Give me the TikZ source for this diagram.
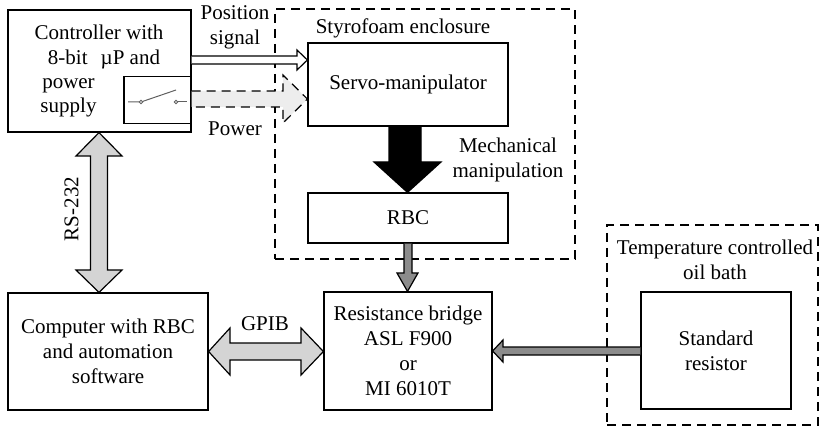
\documentclass[tikz,border=0pt]{standalone}
\usepackage{fontspec}
\setmainfont{Liberation Serif}
\usetikzlibrary{calc}
\definecolor{lightfill}{HTML}{D4D4D4}
\definecolor{powerfill}{HTML}{EDEDED}
\definecolor{midfill}{HTML}{8C8C8C}
\definecolor{switchgray}{HTML}{606060}
\tikzset{
  txt/.style={font=\fontsize{21}{25}\selectfont},
  lbl/.style={txt, inner sep=0pt, text height=15pt, text depth=4.5pt},
  mlbl/.style={txt, inner sep=0pt, align=center},
  box/.style={draw, line width=1.2pt, inner sep=0pt, txt, align=center},
  region/.style={draw, line width=1.2pt, dash pattern=on 9pt off 6pt, inner sep=0pt},
  fat/.style={line width=1.2pt, line join=miter, miter limit=10},
}
\begin{document}
\begin{tikzpicture}[x=1pt,y=-1pt]
\useasboundingbox (0,0) rectangle (821,427);

% dashed enclosures
\node[region, minimum width=300pt, minimum height=250pt] (foam) at (425,134) {};
\node[region, minimum width=211pt, minimum height=200pt] (bath) at (712.5,325) {};
\node[mlbl] (foamlbl) at (403,28) {Styrofoam enclosure};
\node[mlbl] (bathlbl) at (715,259.5) {Temperature controlled\\oil bath};

% blocks
\node[box, minimum width=183pt, minimum height=122pt] (ctrl) at (99.5,71) {};
\node[box, minimum width=67pt, minimum height=47pt] (sw) at (157.5,100) {};
\node[box, minimum width=200pt, minimum height=83pt] (servo) at (408,84.5) {Servo-manipulator};
\node[box, minimum width=200pt, minimum height=50pt] (rbc) at (408,218) {RBC};
\node[box, minimum width=168pt, minimum height=118pt] (bridge) at (408,351) {Resistance bridge\\ASL F900\\or\\MI 6010T};
\node[box, minimum width=200pt, minimum height=117pt] (comp) at (108,351.5) {Computer with RBC\\and automation\\software};
\node[box, minimum width=150pt, minimum height=117pt] (stdres) at (716,350.5) {Standard\\resistor};

% controller text around the switch
\node[lbl] (c1) at (99,34.75) {Controller with};
\node[lbl] (c2) at (104,59.75) {8-bit\hspace{13pt}µP and};
\node[lbl] (c3) at (68.5,83) {power};
\node[lbl] (c4) at (68.5,107) {supply};

% switch symbol
\coordinate (swa) at (141,102);
\coordinate (swb) at (176,102);
\draw[switchgray, line width=1pt] (128,102) -- (swa) -- (176,90);
\draw[switchgray, line width=1pt] (swb) -- (187,102);
\draw[switchgray, line width=0.9pt, fill=white] (swa) circle (1.8pt);
\draw[switchgray, line width=0.9pt, fill=white] (swb) circle (1.8pt);

% position signal
\filldraw[fat, fill=white] (ctrl.east |- 0,56) -- (297,56) -- (297,50) -- (servo.west |- 0,60)
  -- (297,70) -- (297,64) -- (ctrl.east |- 0,64);
\node[mlbl] (poslbl) at (235,27.5) {Position\\signal};

% power
\filldraw[fat, fill=powerfill, dash pattern=on 9pt off 6pt] (sw.east |- 0,91) -- (283,91) -- (283,75)
  -- (servo.west |- 0,99) -- (283,123) -- (283,107) -- (sw.east |- 0,107);
\node[lbl] (powlbl) at (235,130) {Power};

% mechanical manipulation
\filldraw[fat, fill=black] (389,0 |- servo.south) -- (389,162) -- (374,162) -- (407.5,0 |- rbc.north)
  -- (441,162) -- (421,162) -- (421,0 |- servo.south);
\node[mlbl] (mechlbl) at (508,160) {Mechanical\\manipulation};

% RBC to bridge
\filldraw[fat, fill=midfill] (404,0 |- rbc.south) -- (404,273) -- (397,273) -- (407.5,0 |- bridge.north)
  -- (418,273) -- (412,273) -- (412,0 |- rbc.south);

% standard resistor to bridge
\filldraw[fat, fill=midfill] (stdres.west |- 0,347) -- (503,347) -- (503,340) -- (bridge.east |- 0,351)
  -- (503,362) -- (503,355) -- (stdres.west |- 0,355);

% RS-232
\filldraw[fat, fill=lightfill] (99,0 |- ctrl.south) -- (122,156) -- (107.5,156) -- (107.5,270) -- (122,270)
  -- (99,0 |- comp.north) -- (76,270) -- (90.5,270) -- (90.5,156) -- (76,156) -- cycle;
\node[lbl, rotate=90] (rslbl) at (73,209) {RS-232};

% GPIB
\filldraw[fat, fill=lightfill] (comp.east |- 0,351.5) -- (230,328) -- (230,343) -- (301,343) -- (301,328)
  -- (bridge.west |- 0,351.5) -- (301,375) -- (301,360) -- (230,360) -- (230,375) -- cycle;
\node[lbl] (gpiblbl) at (265,325) {GPIB};
\end{tikzpicture}
\end{document}
